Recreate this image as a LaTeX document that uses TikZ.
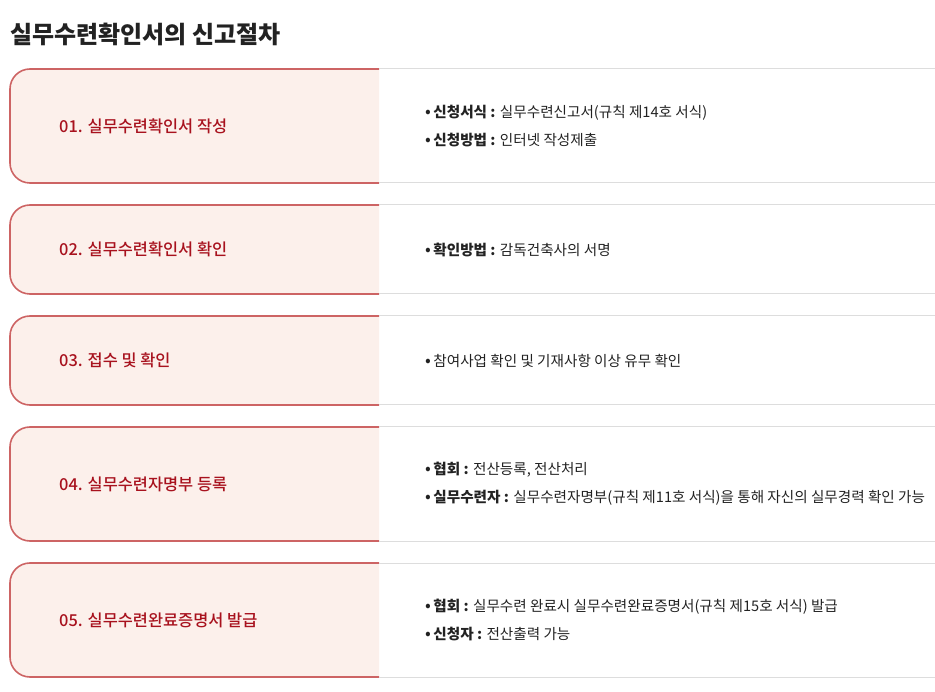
\documentclass[tikz,border=0pt]{standalone}
\usepackage{fontspec}
\setmainfont{Noto Sans CJK KR}
\newfontfamily\medfont{Noto Sans CJK KR Medium}
\definecolor{bordred}{HTML}{CD6464}
\definecolor{boxfill}{HTML}{FCF0EB}
\definecolor{labred}{HTML}{A8121E}
\definecolor{txt}{HTML}{222222}
\definecolor{rule}{HTML}{DDDDDD}
\tikzset{
  steplabel/.style={anchor=west, inner sep=0pt, text=labred, font=\medfont\fontsize{16.4}{16}\selectfont},
  stepinfo/.style={anchor=west, inner sep=0pt, text=txt, align=left, font=\fontsize{14.6}{28}\selectfont},
  boxline/.style={draw=bordred, line width=1.6pt},
  grayline/.style={draw=rule, line width=1pt},
}
\newcommand\bul{{\fontsize{17}{17}\selectfont •}\,}
\newcommand\stepblock[5]{%
  % #1 name, #2 top, #3 bottom, #4 label, #5 info
  \fill[boxfill] (379,-#2) -- (30,-#2) arc[start angle=90,end angle=180,radius=20] -- (10,-#3+20) arc[start angle=180,end angle=270,radius=20] -- (379,-#3) -- cycle;
  \draw[boxline] (379,-#2) -- (30,-#2) arc[start angle=90,end angle=180,radius=20] -- (10,-#3+20) arc[start angle=180,end angle=270,radius=20] -- (379,-#3);
  \draw[grayline] (379,-#2) -- (935,-#2);
  \draw[grayline] (379,-#3) -- (935,-#3);
  \node[steplabel] (#1l) at (59,{-(#2+#3)/2}) {#4};
  \node[stepinfo] (#1i) at (425,{-(#2+#3)/2}) {#5};
}
\begin{document}
\begin{tikzpicture}[x=1pt,y=1pt]
\useasboundingbox (0,0) rectangle (935,-692);
\node[anchor=west, inner sep=0pt, text=txt, font=\fontsize{24}{24}\selectfont\bfseries] (title) at (10,-34) {실무수련확인서의 신고절차};
\stepblock{s1}{69}{183}{01. 실무수련확인서 작성}{\bul\textbf{신청서식 :} 실무수련신고서(규칙 제14호 서식)\\\bul\textbf{신청방법 :} 인터넷 작성제출}
\stepblock{s2}{205}{294}{02. 실무수련확인서 확인}{\bul\textbf{확인방법 :} 감독건축사의 서명}
\stepblock{s3}{316}{405}{03. 접수 및 확인}{\bul 참여사업 확인 및 기재사항 이상 유무 확인}
\stepblock{s4}{427}{541}{04. 실무수련자명부 등록}{\bul\textbf{협회 :} 전산등록, 전산처리\\\bul\textbf{실무수련자 :} 실무수련자명부(규칙 제11호 서식)을 통해 자신의 실무경력 확인 가능}
\stepblock{s5}{563}{677}{05. 실무수련완료증명서 발급}{\bul\textbf{협회 :} 실무수련 완료시 실무수련완료증명서(규칙 제15호 서식) 발급\\\bul\textbf{신청자 :} 전산출력 가능}
\end{tikzpicture}
\end{document}
